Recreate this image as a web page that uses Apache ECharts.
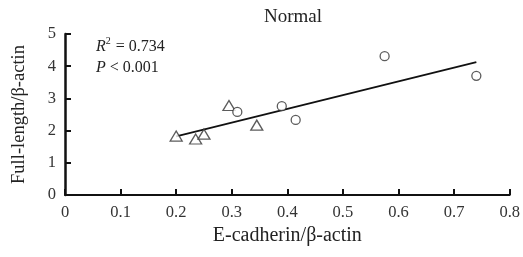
<!DOCTYPE html>
<html><head><meta charset="utf-8">
<script src="https://cdn.jsdelivr.net/npm/echarts@6/dist/echarts.min.js"></script>
<style>html,body{margin:0;padding:0;background:#fff}#c{width:523px;height:257px}</style>
</head><body><div id="c"></div>
<script>
const triangleX = [0.200, 0.235, 0.250, 0.295, 0.345];
const triangleY = [1.83, 1.74, 1.89, 2.78, 2.17];
const circleX = [0.310, 0.390, 0.415, 0.575, 0.740];
const circleY = [2.58, 2.76, 2.33, 4.31, 3.70];
const fitX = [0.200, 0.740];
const fitY = [1.82, 4.13];
const xTicks = [0, 0.1, 0.2, 0.3, 0.4, 0.5, 0.6, 0.7, 0.8];
const yTicks = [0, 1, 2, 3, 4, 5];

const font = 'Liberation Serif';
const chart = echarts.init(document.getElementById('c'));
const zip = (a, b) => a.map((v, i) => [v, b[i]]);
chart.setOption({
  animation: false,
  textStyle: {fontFamily: font},
  title: {text: 'Normal', left: 288, top: 3, textAlign: 'center',
    textStyle: {fontFamily: font, fontWeight: 'normal', fontSize: 19, color: '#222'}},
  grid: {left: 65, right: 12, top: 34, bottom: 62},
  xAxis: {
    type: 'value', min: 0, max: 0.8, interval: 0.1,
    name: 'E-cadherin/β-actin', nameLocation: 'middle', nameGap: 31,
    nameTextStyle: {fontFamily: font, fontSize: 20, color: '#222'},
    axisLine: {lineStyle: {color: '#111', width: 2}},
    axisTick: {inside: true, length: 6, lineStyle: {color: '#111', width: 2}},
    axisLabel: {fontFamily: font, fontSize: 16.5, color: '#333', margin: 9,
      formatter: v => String(+v.toFixed(1))},
    splitLine: {show: false}
  },
  yAxis: {
    type: 'value', min: 0, max: 5, interval: 1,
    name: 'Full-length/β-actin', nameLocation: 'middle', nameGap: 36,
    nameTextStyle: {fontFamily: font, fontSize: 18.5, color: '#222'},
    axisLine: {show: true, lineStyle: {color: '#111', width: 2.5}},
    axisTick: {show: true, inside: true, length: 6, lineStyle: {color: '#111', width: 2}},
    axisLabel: {fontFamily: font, fontSize: 16.5, color: '#333', margin: 9},
    splitLine: {show: false}
  },
  graphic: [{
    type: 'text', left: 96, top: 36,
    style: {
      text: '{i|R}{s|2}{n| = 0.734}\n{i|P}{n| < 0.001}',
      rich: {
        i: {fontFamily: font, fontStyle: 'italic', fontSize: 16, fill: '#222', lineHeight: 21},
        s: {fontFamily: font, fontSize: 10, fill: '#222', verticalAlign: 'top', padding: [0, 1, 7, 0], lineHeight: 21},
        n: {fontFamily: font, fontSize: 16, fill: '#222', lineHeight: 21}
      }
    }
  }],
  series: [
    {type: 'line', data: zip(fitX, fitY), symbol: 'none',
      lineStyle: {color: '#111', width: 1.8}, z: 1},
    {type: 'scatter', data: zip(triangleX, triangleY), symbol: 'triangle', symbolSize: [12, 10],
      itemStyle: {color: '#fff', borderColor: '#333', borderWidth: 1.3}, z: 3},
    {type: 'scatter', data: zip(circleX, circleY), symbol: 'circle', symbolSize: 9,
      itemStyle: {color: '#fff', borderColor: '#333', borderWidth: 1.3}, z: 3}
  ]
});
</script></body></html>
